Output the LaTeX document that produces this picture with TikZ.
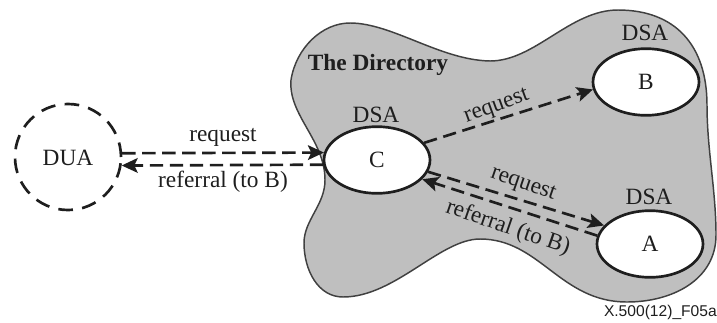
\documentclass[tikz,border=0pt]{standalone}
\usepackage{fontspec}
\setmainfont{Liberation Serif}
\newfontfamily\tagfont{Liberation Sans}
\usetikzlibrary{shapes.geometric,arrows.meta}
\definecolor{blobfill}{HTML}{BFBFBF}
\definecolor{blobline}{HTML}{404040}
\definecolor{inkc}{HTML}{1E1E1E}
\tikzset{
  x=0.75pt,y=-0.75pt,
  entity/.style={ellipse,draw=inkc,line width=2pt,fill=white,minimum width=79.5pt,minimum height=50pt,inner sep=0pt,text=inkc,font=\fontsize{17.5}{20}\selectfont},
  duacircle/.style={entity,dash pattern=on 11pt off 7pt,fill=none,minimum width=79.5pt,minimum height=79.5pt},
  lab/.style={inner sep=0pt,text=inkc,font=\fontsize{17.5}{20}\selectfont},
  flow/.style={draw=inkc,line width=2pt,dash pattern=on 10pt off 5pt,-{Stealth[length=12pt,width=11pt,inset=2.5pt]}},
}
\begin{document}
\begin{tikzpicture}
\useasboundingbox (0,0) rectangle (717,322);
\draw[fill=blobfill,draw=blobline,line width=1.1pt]
  (291,80) .. controls (296,48) and (322,23) .. (350,23)
  .. controls (392,23) and (440,60) .. (490,61)
  .. controls (535,61) and (570,10) .. (618,10)
  .. controls (675,10) and (707,45) .. (707,105)
  .. controls (707,150) and (716,190) .. (716,235)
  .. controls (716,280) and (672,302) .. (627,302)
  .. controls (560,302) and (540,239) .. (480,239)
  .. controls (440,239) and (395,297) .. (343,297)
  .. controls (318,297) and (304,270) .. (304,243)
  .. controls (304,220) and (325,205) .. (325,180)
  .. controls (325,140) and (288,115) .. (291,80) -- cycle;
\node[entity] (c) at (377,160) {C};
\node[entity] (b) at (646,82) {B};
\node[entity] (a) at (650,244) {A};
\node[duacircle] (dua) at (68,157) {};
\node[lab] (dualab) at (68,158) {DUA};
\node[lab] (dsac) at (376,115) {DSA};
\node[lab] (dsab) at (645,33) {DSA};
\node[lab] (dsaa) at (649,197) {DSA};
\node[lab,font=\fontsize{17.5}{20}\bfseries\selectfont] (dir) at (378,65) {The Directory};
\node[lab] (l1) at (223,137) {request};
\node[lab] (l2) at (223,182) {referral (to B)};
\node[lab,rotate=20] (l3) at (497,107) {request};
\node[lab,rotate=-19] (l4) at (523,185) {request};
\node[lab,rotate=-19] (l5) at (508,228) {referral (to B)};
\node[inner sep=0pt,text=inkc,font=\tagfont\fontsize{11.7}{13}\selectfont,anchor=east] (tag) at (717,312) {X.500(12)\_F05a};
\draw[flow] (dua.4) -- (c.172.5);
\draw[flow] (c.185) -- (dua.-9);
\draw[flow] (c.20) -- (b.188);
\draw[flow] (c.-13) -- (a.158);
\draw[flow] (a.171) -- (c.-23.5);
\end{tikzpicture}
\end{document}
